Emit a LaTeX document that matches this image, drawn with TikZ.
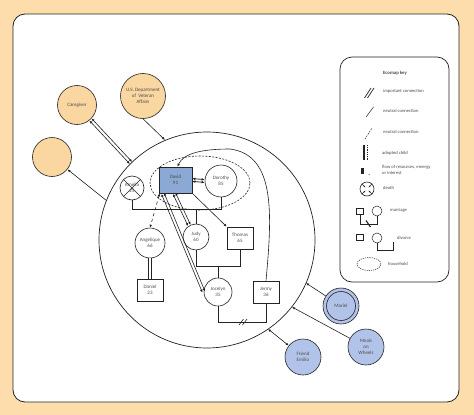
\documentclass[tikz,border=0pt]{standalone}
\usepackage{fontspec}
\setmainfont{Carlito}
\usetikzlibrary{arrows.meta,shapes.geometric,calc}
\definecolor{peach}{RGB}{253,221,172}
\definecolor{orangefill}{RGB}{250,214,160}
\definecolor{bluefill}{RGB}{178,195,233}
\definecolor{davidfill}{RGB}{140,168,212}
\definecolor{txt}{RGB}{75,75,75}
\definecolor{ln}{RGB}{35,35,35}
\tikzset{
  ah/.tip={Latex[length=3pt,width=2.6pt]},
  lbl/.style={font=\fontsize{5}{5.8}\selectfont, text=txt, align=center, inner sep=0pt},
  person/.style={circle, draw=ln, line width=0.6pt, fill=white, lbl},
  male/.style={rectangle, draw=ln, line width=0.6pt, fill=white, minimum width=26pt, minimum height=22pt, lbl},
  ext/.style={circle, draw=ln, line width=0.6pt, lbl},
  link/.style={draw=ln, line width=0.6pt},
  leg/.style={font=\fontsize{4.6}{5.4}\selectfont, text=txt, align=left, inner sep=0pt, anchor=west},
  legline/.style={draw=ln, line width=0.5pt},
  hdash/.style={dash pattern=on 2pt off 1.4pt},
}
\begin{document}
\begin{tikzpicture}[x=1pt,y=-1pt]
\useasboundingbox (0,0) rectangle (474,415);
\fill[peach] (0,0) rectangle (474,415);
\draw[ln, line width=0.8pt, fill=white, rounded corners=12pt] (13,14) rectangle (459,402);

% big circle and household
\node[circle, draw=ln, line width=0.7pt, minimum size=216pt, inner sep=0pt] (eco) at (207,240) {};
\node[ellipse, draw=ln, line width=0.6pt, hdash, minimum width=100pt, minimum height=54pt, inner sep=0pt] (house) at (200,183) {};

% external systems
\node[ext, fill=orangefill, minimum size=39pt] (caregiver) at (77,105) {Caregiver};
\node[ext, fill=orangefill, minimum size=45pt] (va) at (143,96) {U.S. Department\\of~ Veteran\\Affairs};
\node[ext, fill=orangefill, minimum size=39pt] (empty) at (52,157) {};
\node[ext, fill=bluefill, minimum size=36pt] (mariel) at (341,306) {};
\node[circle, draw=ln, line width=0.6pt, minimum size=29pt, lbl] (marielin) at (341,306) {Mariel};
\node[ext, fill=bluefill, minimum size=36pt] (meals) at (366,347) {Meals\\on\\Wheels};
\node[ext, fill=bluefill, minimum size=36pt] (emilio) at (303,357) {Friend\\Emilio};

% points on the big circle
\coordinate (cgE) at (131,163);
\coordinate (vaE) at (165,140);
\coordinate (emE) at (107,201);
\coordinate (maE) at (306,283);
\coordinate (mwE) at (292,307);
\coordinate (feE) at (268,329);

\draw[link, ah-ah, transform canvas={shift={(1.1,-1.05)}}] (caregiver) -- (cgE);
\draw[link, ah-ah, transform canvas={shift={(-1.1,1.05)}}] (caregiver) -- (cgE);
\draw[link, -ah] (va.south) -- (vaE);
\draw[link, ah-] (empty) -- (emE);
\draw[link, -ah] (mariel) -- (maE);
\draw[link, -ah] (meals) -- (mwE);
\draw[link, ah-ah] (emilio) -- (feE);

% family
\node[male, fill=davidfill, minimum width=33pt, minimum height=26pt] (david) at (175.5,180) {David\\91};
\node[person, minimum size=32pt] (dorothy) at (221,181) {Dorothy\\85};
\node[person, minimum size=24pt, path picture={
  \draw[ln, line width=0.6pt] (path picture bounding box.north west) -- (path picture bounding box.south east);
  \draw[ln, line width=0.6pt] (path picture bounding box.north east) -- (path picture bounding box.south west);}] (amelia) at (132,188) {Amelia\\25};
\node[person, minimum size=30pt] (angelique) at (150,243) {Angelique\\66};
\node[male] (daniel) at (150,290) {Daniel\\23};
\node[person, minimum size=26pt] (judy) at (196,237) {Judy\\60};
\node[male] (thomas) at (240,238) {Thomas\\65};
\node[person, minimum size=28pt] (jocelyn) at (218,292) {Jocelyn\\35};
\node[male] (jermy) at (266,292) {Jermy\\36};

\coordinate (jm) at (196,209);
\coordinate (jt) at (218,266);

\draw[link] (amelia.south) -- ++(0,9) -| (dorothy.south);
\draw[link] (jm) -- (judy.north);
\draw[link] (judy.south) -- ++(0,16) -| (thomas.south);
\draw[link] (jt) -- (jocelyn.north);
\draw[link] (jocelyn.south) -- ++(0,16) -| (jermy.south);
\draw[link] (239,325) -- (243.5,319);
\draw[link] (242.5,325) -- (247,319);

\draw[link, double=white, double distance=2.6pt] (angelique.south) -- (daniel.north);
\draw[link, dashed, ah-ah] ([xshift=1pt]david.south west) -- (angelique.north);
\draw[link, ah-ah, transform canvas={shift={(1.3,-0.54)}}] ([xshift=4pt]david.south west) -- (jocelyn.west);
\draw[link, ah-ah, transform canvas={shift={(-1.3,0.54)}}] ([xshift=4pt]david.south west) -- (jocelyn.west);
\draw[link, ah-ah, transform canvas={shift={(1.28,-0.57)}}] ([xshift=15.5pt]david.south west) -- (judy.120);
\draw[link, ah-ah, transform canvas={shift={(-1.28,0.57)}}] ([xshift=15.5pt]david.south west) -- (judy.120);
\draw[link, -ah] (david.south east) -- (thomas.north west);
\draw[link, ah-ah, line width=0.8pt, transform canvas={shift={(0,-1.4)}}] (david.east) -- (dorothy.west);
\draw[link, ah-ah, line width=0.8pt, transform canvas={shift={(0,1.4)}}] (david.east) -- (dorothy.west);
\draw[link, -ah] (jermy.north) .. controls (272,215) and (276,155) .. (230,149) .. controls (200,149) and (183,154) .. ([xshift=2pt]david.north);

% legend
\draw[ln, line width=0.7pt, rounded corners=12pt] (340,57) rectangle (449,282);
\node[font=\bfseries\fontsize{4.8}{5.6}\selectfont, text=txt, inner sep=0pt] (keyt) at (395,73) {Ecomap key};

\draw[legline, line width=0.7pt] (364.5,98) -- (371,88);
\draw[legline, line width=0.7pt] (367.5,98) -- (374,88);
\node[leg] (k1) at (383,91.5) {important connection};
\draw[legline] (366,117) -- (373.5,107);
\node[leg] (k2) at (383,110.5) {neutral connection};
\draw[legline, dash pattern=on 1.5pt off 1.2pt] (365,139) -- (372,128);
\node[leg] (k3) at (383,131.5) {neutral connection};
\draw[ln, line width=1.4pt] (364,145) -- (364,160);
\draw[legline, dash pattern=on 1pt off 0.8pt] (367,145) -- (367,160);
\node[leg] (k4) at (382,153) {adopted child};
\fill[ln] (361,168) rectangle (363.5,173.5);
\fill[ln] (369,174.5) circle (0.5);
\node[leg] (k5) at (382,170) {flow of resources, emergy\\or interest};
\node[circle, draw=ln, line width=0.6pt, minimum size=14pt, inner sep=0pt] (dsym) at (367,189) {};
\draw[legline, -{Latex[length=1.8pt,width=1.8pt]}] (dsym.45) -- ($(dsym.center)!0.3!(dsym.45)$);
\draw[legline, -{Latex[length=1.8pt,width=1.8pt]}] (dsym.135) -- ($(dsym.center)!0.3!(dsym.135)$);
\draw[legline, -{Latex[length=1.8pt,width=1.8pt]}] (dsym.225) -- ($(dsym.center)!0.3!(dsym.225)$);
\draw[legline, -{Latex[length=1.8pt,width=1.8pt]}] (dsym.315) -- ($(dsym.center)!0.3!(dsym.315)$);
\node[leg] (k6) at (383,188) {death};
\node[draw=ln, line width=0.5pt, minimum width=7pt, minimum height=6pt, inner sep=0pt] (msq) at (360,211) {};
\node[circle, draw=ln, line width=0.5pt, minimum size=10pt, inner sep=0pt] (mci) at (377,211) {};
\draw[legline] (msq.south) -- ++(0,10) -| (mci.south);
\draw[ln, line width=1.1pt] (366,220.5) -- (370.5,227);
\node[leg] (k7) at (390,210) {marriage};
\node[draw=ln, line width=0.5pt, minimum width=7pt, minimum height=6pt, inner sep=0pt] (dsq) at (360,237) {};
\node[circle, draw=ln, line width=0.5pt, minimum size=10pt, inner sep=0pt] (dci) at (377,238) {};
\coordinate (dvend) at (393,242);
\draw[legline] (dci.south) -- ++(0,7) -| (dvend);
\node[leg] (k8) at (397,238) {divorce};
\node[ellipse, draw=ln, line width=0.5pt, dash pattern=on 1.2pt off 1pt, minimum width=24pt, minimum height=13pt, inner sep=0pt] (hh) at (369,264) {};
\node[leg] (k9) at (388,264) {household};
\end{tikzpicture}
\end{document}
